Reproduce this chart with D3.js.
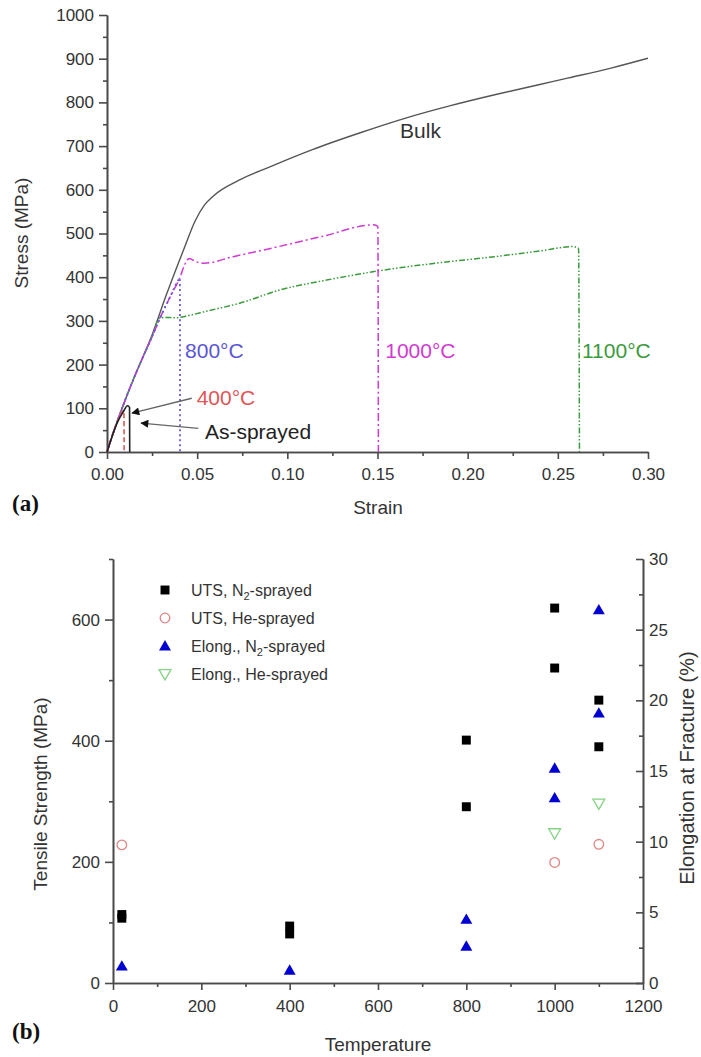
<!DOCTYPE html>
<html>
<head>
<meta charset="utf-8">
<script src="https://cdn.jsdelivr.net/npm/d3@7"></script>
<style>
body { margin: 0; background: #fff; }
svg text { font-family: "Liberation Sans", Arial, sans-serif; }
</style>
</head>
<body>
<div id="chart"></div>
<script>
// ---- (a) stress-strain data: [strain, stress MPa]
var strainTicks = [0, 0.05, 0.10, 0.15, 0.20, 0.25, 0.30];
var stressTicks = [0, 100, 200, 300, 400, 500, 600, 700, 800, 900, 1000];

var curveBulk = [[0,0],[0.005,62],[0.01,118],[0.015,170],[0.02,218],[0.025,268],[0.0325,355],[0.0427,465],
    [0.0488,528],[0.054,565],[0.059,586],[0.0732,622],[0.09,652],[0.1139,692],[0.14,730],[0.1647,763],
    [0.19,792],[0.2156,818],[0.24,841],[0.256,856],[0.28,879],[0.30,901]];
var curve1100 = [[0,0],[0.005,62],[0.01,118],[0.015,170],[0.02,218],[0.025,264],[0.029,306],[0.032,308],
    [0.038,307],[0.045,312],[0.055,322],[0.074,341],[0.096,371],[0.12,392],[0.15,414],[0.18,431],
    [0.215,447],[0.24,460],[0.258,470],[0.2615,466],[0.262,0]];
var curve1000 = [[0,0],[0.005,62],[0.01,118],[0.015,170],[0.02,218],[0.025,264],[0.03,312],[0.035,355],
    [0.0405,400],[0.043,428],[0.0457,443],[0.049,436],[0.054,432],[0.07,447],[0.094,469],[0.12,494],
    [0.148,520],[0.1502,516],[0.1505,0]];
var curve800 = [[0,0],[0.005,62],[0.01,118],[0.015,170],[0.02,218],[0.025,264],[0.03,312],[0.035,355],
    [0.0400,396],[0.0404,398],[0.0405,0]];
var curve400 = [[0,0],[0.003,40],[0.006,72],[0.0085,92],[0.0094,95],[0.0095,0]];
var curveAsSprayed = [[0,0],[0.003,38],[0.006,70],[0.009,92],[0.0114,106],[0.0125,102],[0.0126,0]];

var curveNames = ["Bulk", "1100°C", "1000°C", "800°C", "400°C", "As-sprayed"];

// ---- (b) temperature data: [temperature °C, value]
var tempTicks = [0, 200, 400, 600, 800, 1000, 1200];
var strengthTicks = [0, 200, 400, 600];
var elongTicks = [0, 5, 10, 15, 20, 25, 30];

var utsN2 = [[20,113],[20,107],[400,94],[400,81],[800,401],[800,291],[1000,619],[1000,520],[1100,467],[1100,390]];
var utsHe = [[20,228],[1000,199],[1100,229]];
var elongN2 = [[20,1.2],[400,0.9],[800,4.5],[800,2.6],[1000,15.2],[1000,13.1],[1100,26.4],[1100,19.1]];
var elongHe = [[1000,10.6],[1100,12.7]];

var legendNames = ["UTS, N_2-sprayed", "UTS, He-sprayed", "Elong., N_2-sprayed", "Elong., He-sprayed"];

var width = 701, height = 1057;
var axisColor = "#4a4a4a";
var textColor = "#333";

var svg = d3.select("#chart").append("svg")
    .attr("width", width)
    .attr("height", height)
    .style("background", "#fff");

function styleAxis(g, fontSize) {
    g.select(".domain").attr("stroke", axisColor).attr("stroke-width", 1.6);
    g.selectAll(".tick line").attr("stroke", axisColor).attr("stroke-width", 1.6);
    g.selectAll(".tick text").attr("fill", textColor).style("font-size", fontSize + "px");
}
function midpoints(arr) {
    var out = [];
    for (var i = 0; i < arr.length - 1; i++) out.push((arr[i] + arr[i + 1]) / 2);
    return out;
}

/* ================= (a) ================= */
var x1 = d3.scaleLinear().domain([0, 0.3]).range([107, 648]);
var y1 = d3.scaleLinear().domain([0, 1000]).range([452, 15]);

svg.append("g").attr("transform", "translate(107,0)")
    .call(d3.axisLeft(y1).tickValues(midpoints(stressTicks)).tickSize(4).tickSizeOuter(0).tickFormat(""))
    .call(styleAxis, 17);
svg.append("g").attr("transform", "translate(107,0)")
    .call(d3.axisLeft(y1).tickValues(stressTicks).tickSize(8).tickSizeOuter(0).tickPadding(5).tickFormat(d3.format("d")))
    .call(styleAxis, 17);
svg.append("g").attr("transform", "translate(0,452)")
    .call(d3.axisBottom(x1).tickValues(midpoints(strainTicks)).tickSize(4).tickSizeOuter(0).tickFormat(""))
    .call(styleAxis, 17);
svg.append("g").attr("transform", "translate(0,452)")
    .call(d3.axisBottom(x1).tickValues(strainTicks).tickSize(7).tickSizeOuter(0).tickPadding(9).tickFormat(d3.format(".2f")))
    .call(styleAxis, 17);

var line1 = d3.line()
    .x(function (d) { return x1(d[0]); })
    .y(function (d) { return y1(d[1]); })
    .curve(d3.curveMonotoneX);

var curveStyles = [
    { data: curveBulk, color: "#555", dash: null, w: 1.4 },
    { data: curve1100, color: "#3b9a3b", dash: "6,2,1.5,2,1.5,2", w: 1.5 },
    { data: curve1000, color: "#d03ad0", dash: "8,3,2,3", w: 1.5 },
    { data: curve800, color: "#6a5ad8", dash: "2,3", w: 1.8 },
    { data: curve400, color: "#e05555", dash: "5,3", w: 1.6 },
    { data: curveAsSprayed, color: "#222", dash: null, w: 1.6 }
];
svg.append("g").selectAll("path")
    .data(curveStyles)
    .enter().append("path")
    .attr("d", function (d) { return line1(d.data); })
    .attr("fill", "none")
    .attr("stroke", function (d) { return d.color; })
    .attr("stroke-width", function (d) { return d.w; })
    .attr("stroke-dasharray", function (d) { return d.dash; });

// curve labels, anchored in data coordinates
var labelPos = [
    { s: 0.1625, v: 718, color: "#333" },
    { s: 0.2634, v: 215, color: "#3b9a3b" },
    { s: 0.1543, v: 215, color: "#d03ad0" },
    { s: 0.0433, v: 215, color: "#5b55d6" },
    { s: 0.0497, v: 107, color: "#e05555" },
    { s: 0.0543, v: 30, color: "#222" }
];
svg.append("g").selectAll("text")
    .data(curveNames)
    .enter().append("text")
    .attr("x", function (d, i) { return x1(labelPos[i].s); })
    .attr("y", function (d, i) { return y1(labelPos[i].v); })
    .attr("fill", function (d, i) { return labelPos[i].color; })
    .style("font-size", "21px")
    .text(function (d) { return d; });

// arrows from labels to the two short curves
svg.append("defs").append("marker")
    .attr("id", "arrowhead")
    .attr("viewBox", "0 -5 10 10")
    .attr("refX", 9).attr("refY", 0)
    .attr("markerWidth", 9).attr("markerHeight", 8)
    .attr("markerUnits", "userSpaceOnUse")
    .attr("orient", "auto")
    .append("path").attr("d", "M0,-5L10,0L0,5Z").attr("fill", "#111");
var arrows = [
    [[0.0470, 123], [0.0139, 89]],
    [[0.0506, 54], [0.0189, 66]]
];
svg.append("g").selectAll("line")
    .data(arrows)
    .enter().append("line")
    .attr("x1", function (d) { return x1(d[0][0]); })
    .attr("y1", function (d) { return y1(d[0][1]); })
    .attr("x2", function (d) { return x1(d[1][0]); })
    .attr("y2", function (d) { return y1(d[1][1]); })
    .attr("stroke", "#666")
    .attr("stroke-width", 1.4)
    .attr("marker-end", "url(#arrowhead)");

svg.append("text")
    .attr("transform", "translate(28,233) rotate(-90)")
    .attr("text-anchor", "middle")
    .attr("fill", textColor)
    .style("font-size", "19px")
    .text("Stress (MPa)");
svg.append("text")
    .attr("x", 378).attr("y", 514)
    .attr("text-anchor", "middle")
    .attr("fill", textColor)
    .style("font-size", "19px")
    .text("Strain");
svg.append("text")
    .attr("x", 12).attr("y", 511)
    .style("font-family", "'Liberation Serif', 'Times New Roman', serif")
    .style("font-weight", "bold")
    .style("font-size", "23px")
    .attr("fill", "#111")
    .text("(a)");

/* ================= (b) ================= */
var x2 = d3.scaleLinear().domain([0, 1200]).range([113, 643]);
var yL = d3.scaleLinear().domain([0, 700]).range([983, 559]);
var yR = d3.scaleLinear().domain([0, 30]).range([983, 559]);

svg.append("g").attr("transform", "translate(113,0)")
    .call(d3.axisLeft(yL).tickValues([100, 300, 500, 700]).tickSize(4).tickSizeOuter(0).tickFormat(""))
    .call(styleAxis, 17);
svg.append("g").attr("transform", "translate(113,0)")
    .call(d3.axisLeft(yL).tickValues(strengthTicks).tickSize(8).tickSizeOuter(0).tickPadding(5).tickFormat(d3.format("d")))
    .call(styleAxis, 17);
svg.append("g").attr("transform", "translate(643,0)")
    .call(d3.axisRight(yR).tickValues(midpoints(elongTicks)).tickSize(-4).tickSizeOuter(0).tickFormat(""))
    .call(styleAxis, 17);
svg.append("g").attr("transform", "translate(643,0)")
    .call(d3.axisRight(yR).tickValues(elongTicks).tickSize(-7).tickSizeOuter(0).tickPadding(6).tickFormat(d3.format("d")))
    .call(styleAxis, 17);
svg.append("g").attr("transform", "translate(0,983)")
    .call(d3.axisBottom(x2).tickValues(midpoints(tempTicks)).tickSize(4).tickSizeOuter(0).tickFormat(""))
    .call(styleAxis, 17);
svg.append("g").attr("transform", "translate(0,983)")
    .call(d3.axisBottom(x2).tickValues(tempTicks).tickSize(7).tickSizeOuter(0).tickPadding(10).tickFormat(d3.format("d")))
    .call(styleAxis, 17);

var squareSym = d3.symbol().type(d3.symbolSquare).size(80);
var triSym = d3.symbol().type(d3.symbolTriangle).size(62);

var pts = svg.append("g");
pts.selectAll(".uts-n2").data(utsN2).enter().append("path")
    .attr("class", "uts-n2")
    .attr("d", squareSym)
    .attr("transform", function (d) { return "translate(" + x2(d[0]) + "," + yL(d[1]) + ")"; })
    .attr("fill", "#000");
pts.selectAll(".uts-he").data(utsHe).enter().append("circle")
    .attr("class", "uts-he")
    .attr("cx", function (d) { return x2(d[0]); })
    .attr("cy", function (d) { return yL(d[1]); })
    .attr("r", 4.8)
    .attr("fill", "none")
    .attr("stroke", "#e08585")
    .attr("stroke-width", 1.3);
pts.selectAll(".el-n2").data(elongN2).enter().append("path")
    .attr("class", "el-n2")
    .attr("d", triSym)
    .attr("transform", function (d) { return "translate(" + x2(d[0]) + "," + (yR(d[1]) + 1) + ")"; })
    .attr("fill", "#0000d0");
pts.selectAll(".el-he").data(elongHe).enter().append("path")
    .attr("class", "el-he")
    .attr("d", triSym)
    .attr("transform", function (d) { return "translate(" + x2(d[0]) + "," + (yR(d[1]) - 1) + ") rotate(180)"; })
    .attr("fill", "none")
    .attr("stroke", "#86d286")
    .attr("stroke-width", 1.3);

// legend
var legendY = [590, 618, 646, 674];
var legend = svg.append("g");
legendNames.forEach(function (name, i) {
    var y = legendY[i];
    if (i === 0) legend.append("path").attr("d", squareSym).attr("transform", "translate(165," + y + ")").attr("fill", "#000");
    if (i === 1) legend.append("circle").attr("cx", 165).attr("cy", y).attr("r", 4.8).attr("fill", "none").attr("stroke", "#e08585").attr("stroke-width", 1.3);
    if (i === 2) legend.append("path").attr("d", triSym).attr("transform", "translate(165," + (y + 1) + ")").attr("fill", "#0000d0");
    if (i === 3) legend.append("path").attr("d", triSym).attr("transform", "translate(165," + (y - 1) + ") rotate(180)").attr("fill", "none").attr("stroke", "#86d286").attr("stroke-width", 1.3);
    var t = legend.append("text")
        .attr("x", 191).attr("y", y + 6)
        .attr("fill", textColor)
        .style("font-size", "16px");
    var parts = name.split("_2");
    t.append("tspan").text(parts[0]);
    if (parts.length > 1) {
        t.append("tspan").attr("dy", 4).style("font-size", "11px").text("2");
        t.append("tspan").attr("dy", -4).text(parts[1]);
    }
});

svg.append("text")
    .attr("transform", "translate(47,794) rotate(-90)")
    .attr("text-anchor", "middle")
    .attr("fill", textColor)
    .style("font-size", "19px")
    .text("Tensile Strength (MPa)");
svg.append("text")
    .attr("transform", "translate(694,768) rotate(-90)")
    .attr("text-anchor", "middle")
    .attr("fill", textColor)
    .style("font-size", "20px")
    .text("Elongation at Fracture (%)");
svg.append("text")
    .attr("x", 378).attr("y", 1051)
    .attr("text-anchor", "middle")
    .attr("fill", textColor)
    .style("font-size", "19px")
    .text("Temperature");
svg.append("text")
    .attr("x", 12).attr("y", 1039)
    .style("font-family", "'Liberation Serif', 'Times New Roman', serif")
    .style("font-weight", "bold")
    .style("font-size", "23px")
    .attr("fill", "#111")
    .text("(b)");
</script>
</body>
</html>
